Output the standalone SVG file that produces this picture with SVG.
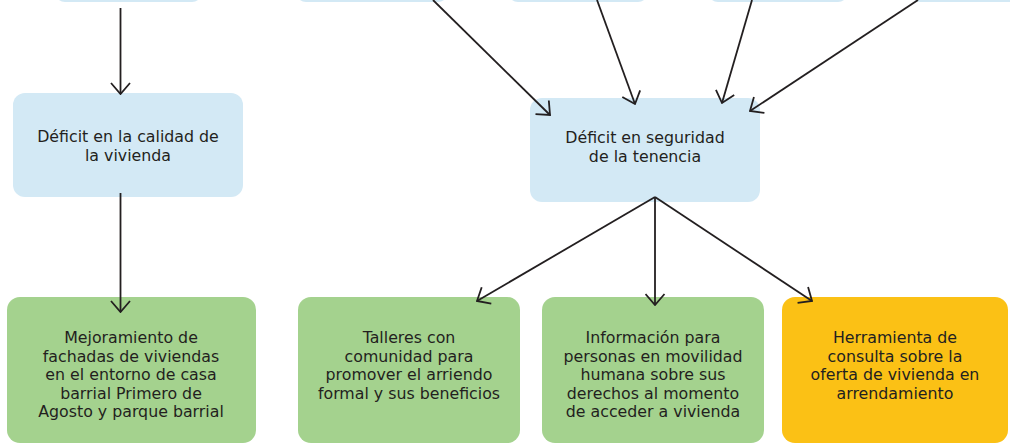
<svg xmlns="http://www.w3.org/2000/svg" width="1010" height="444" viewBox="0 0 1010 444">
<defs>
<marker id="ah" viewBox="0 0 13 21" markerWidth="13" markerHeight="21" refX="12" refY="10.5" orient="auto" markerUnits="userSpaceOnUse">
<path d="M1,1 L12,10.5 L1,20" fill="none" stroke="#231f20" stroke-width="1.8"/>
</marker>
<style>
.blue{fill:#d3e9f5}
.green{fill:#a4d28e}
.orange{fill:#fbc115}
.t{font-family:"DejaVu Sans",sans-serif;font-size:15.8px;fill:#231f20;text-anchor:middle}
.c{stroke:#231f20;stroke-width:1.8;fill:none;marker-end:url(#ah)}
</style>
</defs>
<rect width="1010" height="444" fill="#ffffff"/>
<g id="top1"><rect class="blue" x="55" y="-30" width="147" height="32" rx="10"/></g>
<g id="top2"><rect class="blue" x="296" y="-30" width="152" height="32" rx="10"/></g>
<g id="top3"><rect class="blue" x="508" y="-30" width="140" height="32" rx="10"/></g>
<g id="top4"><rect class="blue" x="708" y="-30" width="140" height="32" rx="10"/></g>
<g id="top5"><rect class="blue" x="910" y="-30" width="120" height="32" rx="10"/></g>
<g id="calidad"><rect class="blue" x="13" y="93" width="230" height="104" rx="12"/>
<text class="t" x="128" y="142">Déficit en la calidad de</text>
<text class="t" x="128" y="160.5">la vivienda</text></g>
<g id="seguridad"><rect class="blue" x="530" y="98" width="230" height="104" rx="12"/>
<text class="t" x="645" y="143">Déficit en seguridad</text>
<text class="t" x="645" y="161.5">de la tenencia</text></g>
<g id="mejoramiento"><rect class="green" x="7" y="297" width="249" height="146" rx="13"/>
<text class="t" x="131" y="343">Mejoramiento de</text>
<text class="t" x="131" y="361.5">fachadas de viviendas</text>
<text class="t" x="131" y="380">en el entorno de casa</text>
<text class="t" x="131" y="398.5">barrial Primero de</text>
<text class="t" x="131" y="417">Agosto y parque barrial</text></g>
<g id="talleres"><rect class="green" x="298" y="297" width="222" height="146" rx="13"/>
<text class="t" x="409" y="343">Talleres con</text>
<text class="t" x="409" y="361.5">comunidad para</text>
<text class="t" x="409" y="380">promover el arriendo</text>
<text class="t" x="409" y="398.5">formal y sus beneficios</text></g>
<g id="informacion"><rect class="green" x="542" y="297" width="222" height="146" rx="13"/>
<text class="t" x="653" y="343">Información para</text>
<text class="t" x="653" y="361.5">personas en movilidad</text>
<text class="t" x="653" y="380">humana sobre sus</text>
<text class="t" x="653" y="398.5">derechos al momento</text>
<text class="t" x="653" y="417">de acceder a vivienda</text></g>
<g id="herramienta"><rect class="orange" x="782" y="297" width="226" height="146" rx="13"/>
<text class="t" x="895" y="343">Herramienta de</text>
<text class="t" x="895" y="361.5">consulta sobre la</text>
<text class="t" x="895" y="380">oferta de vivienda en</text>
<text class="t" x="895" y="398.5">arrendamiento</text></g>
<g id="connectors">
<line class="c" x1="120.5" y1="8" x2="120.5" y2="94"/>
<line class="c" x1="433" y1="0" x2="550" y2="115"/>
<line class="c" x1="597" y1="0" x2="635" y2="104"/>
<line class="c" x1="752" y1="0" x2="722" y2="103"/>
<line class="c" x1="918" y1="0" x2="750" y2="111"/>
<line class="c" x1="120.5" y1="193" x2="120.5" y2="312"/>
<line class="c" x1="655" y1="197" x2="477" y2="301"/>
<line class="c" x1="655" y1="197" x2="655" y2="305"/>
<line class="c" x1="655" y1="197" x2="812" y2="301"/>
</g>
</svg>
